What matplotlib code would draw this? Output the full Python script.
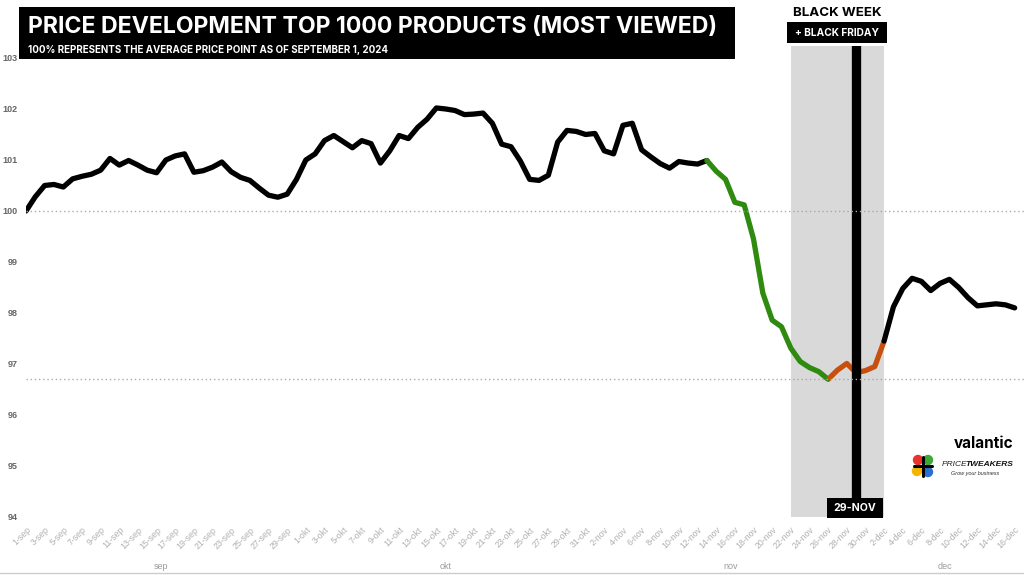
import matplotlib
matplotlib.use("Agg")
import matplotlib.pyplot as plt
from matplotlib.patches import Rectangle, Circle

# ---------------- data ----------------
months = ["sep", "okt", "nov", "dec"]
month_days = [30, 31, 30, 16]

values = [
    100.00, 100.28, 100.50, 100.52, 100.47, 100.63, 100.68, 100.72, 100.80, 101.03,
    100.90, 100.99, 100.90, 100.80, 100.75, 101.00, 101.08, 101.12, 100.76, 100.79,
    100.86, 100.96, 100.77, 100.66, 100.60, 100.45, 100.31, 100.27, 100.33, 100.62,
    101.00, 101.12, 101.38, 101.48, 101.36, 101.24, 101.38, 101.32, 100.94, 101.18,
    101.48, 101.42, 101.64, 101.80, 102.02, 102.00, 101.97, 101.89, 101.90, 101.92,
    101.72, 101.31, 101.26, 100.98, 100.62, 100.60, 100.70, 101.35, 101.58, 101.56,
    101.50, 101.52, 101.18, 101.12, 101.68, 101.72, 101.20, 101.06, 100.93, 100.84,
    100.97, 100.94, 100.92, 100.99, 100.78, 100.62, 100.17, 100.12, 99.45, 98.39,
    97.86, 97.73, 97.31, 97.05, 96.93, 96.85, 96.70, 96.88, 97.01, 96.83,
    96.87, 96.95, 97.45, 98.12, 98.48, 98.68, 98.62, 98.44, 98.58, 98.66,
    98.50, 98.30, 98.14, 98.16, 98.18, 98.16, 98.10,
]

green_start, orange_start, orange_end = 73, 86, 92   # 13-nov, 26-nov, 2-dec
black_week = (82, 92)                                # 22-nov .. 2-dec
black_friday = 89                                    # 29-nov
y_ticks = [94, 95, 96, 97, 98, 99, 100, 101, 102, 103]

title = "PRICE DEVELOPMENT TOP 1000 PRODUCTS (MOST VIEWED)"
subtitle = "100% REPRESENTS THE AVERAGE PRICE POINT AS OF SEPTEMBER 1, 2024"

# ---------------- labels ----------------
day_labels = []
month_start = []
idx = 0
for m, n in zip(months, month_days):
    month_start.append(idx)
    for d in range(1, n + 1):
        day_labels.append(f"{d}-{m}")
        idx += 1
x = list(range(len(values)))

W, H = 1024, 575
fig = plt.figure(figsize=(W / 100, H / 100), dpi=100)
fig.patch.set_facecolor("white")

ax_left, ax_right, ax_top, ax_bot = 26, 1024, 46, 517
ax = fig.add_axes([ax_left / W, (H - ax_bot) / H, (ax_right - ax_left) / W, (ax_bot - ax_top) / H])
ax.set_xlim(0, 107)
ax.set_ylim(94, 103.235)
for s in ax.spines.values():
    s.set_visible(False)

ax.axvspan(black_week[0], black_week[1], color="#d9d9d9", lw=0, zorder=0)

BLACK, GREEN, ORANGE = "#000000", "#2f8a10", "#c8500e"
lw = 3.8
ax.plot(x[:green_start + 1], values[:green_start + 1], color=BLACK, lw=lw,
        solid_capstyle="round", solid_joinstyle="round", zorder=3)
ax.plot(x[green_start:orange_start + 1], values[green_start:orange_start + 1], color=GREEN, lw=lw,
        solid_capstyle="round", solid_joinstyle="round", zorder=3)
ax.plot(x[orange_start:orange_end + 1], values[orange_start:orange_end + 1], color=ORANGE, lw=lw,
        solid_capstyle="butt", solid_joinstyle="round", zorder=3)
ax.plot(x[orange_end:], values[orange_end:], color=BLACK, lw=lw,
        solid_capstyle="round", solid_joinstyle="round", zorder=3)

ax.axvline(black_friday, color="black", lw=6.7, zorder=4)

ax.axhline(100, color="#aaaaaa", lw=1.0, ls=(0, (1, 2)), zorder=5)
ax.axhline(min(values), color="#aaaaaa", lw=1.0, ls=(0, (1, 2)), zorder=5)

ax.set_yticks(y_ticks)
ax.set_yticklabels([str(t) for t in y_ticks], fontsize=6.5, color="#666666",
                   fontweight="bold", family="Liberation Sans")
ax.tick_params(axis="y", length=0, pad=6)

tick_pos = x[::2]
ax.set_xticks(tick_pos)
ax.set_xticklabels(day_labels[::2], rotation=45, ha="right", va="top",
                   rotation_mode="anchor", fontsize=6.3, color="#b0b0b0",
                   family="Liberation Sans")
ax.tick_params(axis="x", length=0, pad=6)

# month group labels
for m, st, n in zip(months, month_start, month_days):
    ax.text(st + (n - 1) / 2, -0.105, m, transform=ax.get_xaxis_transform(),
            ha="center", va="center", fontsize=6.5, color="#9a9a9a",
            family="Liberation Sans")

# ---------------- decoration overlay in pixel coordinates ----------------
ov = fig.add_axes([0, 0, 1, 1], zorder=10)
ov.set_xlim(0, W)
ov.set_ylim(H, 0)
ov.axis("off")
ov.patch.set_alpha(0)

ov.add_patch(Rectangle((19, 7), 716, 52, color="black", lw=0))
ov.text(28, 26.5, title, color="white", fontsize=16.65, fontweight="bold",
        family="Inter", ha="left", va="center")
ov.text(28, 50, subtitle, color="white", fontsize=7.05, fontweight="bold",
        family="Inter", ha="left", va="center")

ov.text(837.5, 12.5, "BLACK WEEK", color="black", fontsize=9.6, fontweight="bold",
        family="Inter", ha="center", va="center")
ov.add_patch(Rectangle((787, 22), 100, 21, color="black", lw=0))
ov.text(837, 32.5, "+ BLACK FRIDAY", color="white", fontsize=7.3, fontweight="bold",
        family="Inter", ha="center", va="center")

ov.add_patch(Rectangle((827, 498), 56, 20, color="black", lw=0))
ov.text(855, 508, "29-NOV", color="white", fontsize=7.6, fontweight="bold",
        family="Inter", ha="center", va="center")

ov.plot([0, W], [573, 573], color="#cccccc", lw=1)

# logos
ov.text(1013, 443, "valantic", color="black", fontsize=11, fontweight="bold",
        family="Inter", ha="right", va="center")
for (cx, cy, c) in [(918, 460, "#e8322c"), (928, 460, "#3aa935"),
                    (917, 471, "#f5b400"), (928, 472, "#2a6fd1")]:
    ov.add_patch(Circle((cx, cy), 5.2, color=c, lw=0))
ov.plot([914, 932], [466, 466], color="black", lw=2.2, solid_capstyle="round")
ov.plot([923, 923], [457, 476], color="black", lw=2.2, solid_capstyle="round")
ov.text(942, 465, "PRICE", color="#222222", fontsize=6.0, style="italic",
        family="Liberation Sans", ha="left", va="center")
ov.text(965.5, 465, "TWEAKERS", color="#111111", fontsize=6.0, style="italic",
        fontweight="bold", family="Liberation Sans", ha="left", va="center")
ov.text(951, 473, "Grow your business", color="#333333", fontsize=4.0, style="italic",
        family="Liberation Sans", ha="left", va="center")

fig.savefig("out.png", dpi=100)
